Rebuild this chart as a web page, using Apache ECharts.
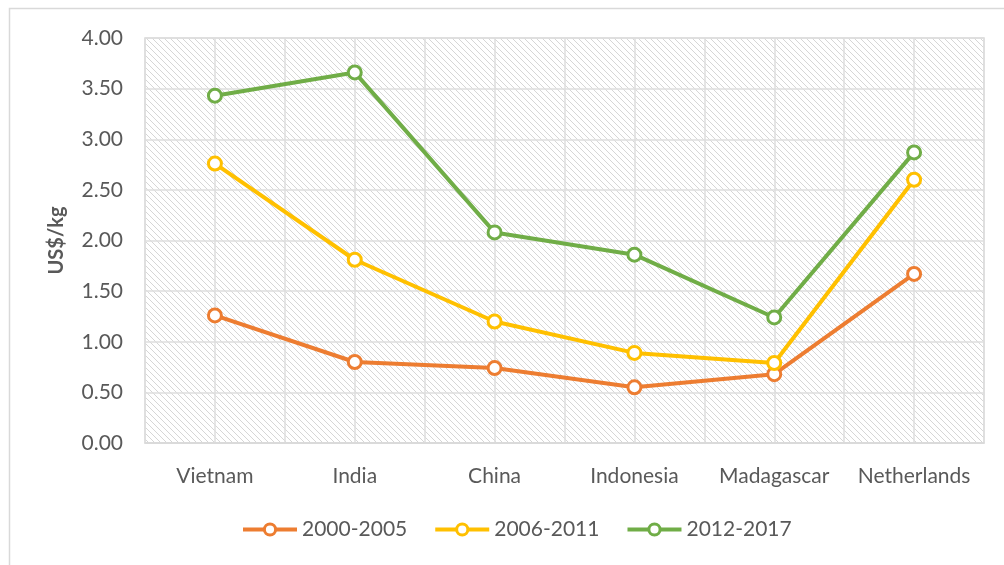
<!DOCTYPE html>
<html><head><meta charset="utf-8">
<script src="https://cdn.jsdelivr.net/npm/echarts@6/dist/echarts.min.js"></script>
<style>html,body{margin:0;padding:0;background:#fff}#c{width:1004px;height:565px}</style>
</head><body><div id="c"></div>
<script>
const categories = ['Vietnam','India','China','Indonesia','Madagascar','Netherlands'];
const s2000_2005 = [1.26, 0.80, 0.74, 0.55, 0.68, 1.67];
const s2006_2011 = [2.76, 1.81, 1.20, 0.89, 0.79, 2.60];
const s2012_2017 = [3.43, 3.66, 2.08, 1.86, 1.24, 2.87];
const seriesNames = ['2000-2005','2006-2011','2012-2017'];
const colors = ['#ED7D31','#FFC000','#70AD47'];
const yTicks = {min:0, max:4, interval:0.5};

// hatch pattern
const pc = document.createElement('canvas');
pc.width = 6; pc.height = 6;
const g = pc.getContext('2d');
g.fillStyle = '#ffffff'; g.fillRect(0,0,6,6);
g.strokeStyle = '#d6d6d6'; g.lineWidth = 1;
g.beginPath();
g.moveTo(-1,-1); g.lineTo(7,7);
g.moveTo(-1,5); g.lineTo(1,7);
g.moveTo(5,-1); g.lineTo(7,1);
g.stroke();

const halfCats = [];
categories.forEach(c => { halfCats.push(c + '_a'); halfCats.push(c + '_b'); });

const chart = echarts.init(document.getElementById('c'));
const font = 'Lato, "Open Sans", sans-serif';
const allData = [s2000_2005, s2006_2011, s2012_2017];
chart.setOption({
  animation: false,
  textStyle: {fontFamily: font},
  graphic: [{type:'rect', shape:{x:9.5,y:8.5,width:1010,height:570}, style:{fill:'none', stroke:'#d9d9d9', lineWidth:1.5}, silent:true}],
  grid: {left:145, right:20, top:38, bottom:122, show:true, backgroundColor:{image: pc, repeat:'repeat'}, borderColor:'#d9d9d9', borderWidth:1.5},
  legend: {
    top: 514, left: 236, itemWidth: 54, itemHeight: 14, itemGap: 26,
    textStyle: {fontSize: 21, color:'#595959', fontFamily: font},
    lineStyle: {width: 4},
    itemStyle: {borderWidth: 3},
    data: seriesNames
  },
  xAxis: [{
    type:'category', data: categories, boundaryGap: true,
    axisLine:{show:true, lineStyle:{color:'#d9d9d9', width:1.5}}, axisTick:{show:false},
    axisLabel:{fontSize:21, color:'#595959', margin:23, interval:0, fontFamily: font},
    splitLine:{show:false}
  },{
    type:'category', data: halfCats, boundaryGap: true, position:'bottom',
    axisLine:{show:false}, axisTick:{show:false}, axisLabel:{show:false},
    splitLine:{show:true, interval:0, lineStyle:{color:'#dedede', width:1.5}}
  }],
  yAxis: {
    type:'value', min: yTicks.min, max: yTicks.max, interval: yTicks.interval,
    name:'US$/kg', nameLocation:'middle', nameGap:78, nameRotate:90,
    nameTextStyle:{fontSize:20, fontWeight:'bold', color:'#595959', fontFamily: font},
    axisLabel:{fontSize:21, color:'#595959', margin:22, formatter: v => v.toFixed(2), fontFamily: font},
    axisLine:{show:false}, axisTick:{show:false},
    splitLine:{show:true, lineStyle:{color:'#dedede', width:1.5}}
  },
  series: seriesNames.map((n,i) => ({
    name: n, type:'line', data: allData[i], xAxisIndex:0,
    symbol:'circle', symbolSize:13, showSymbol:true,
    lineStyle:{color: colors[i], width:4},
    itemStyle:{color:'#ffffff', borderColor: colors[i], borderWidth:3},
    color: colors[i],
    z: 3 + i
  }))
});
</script></body></html>
